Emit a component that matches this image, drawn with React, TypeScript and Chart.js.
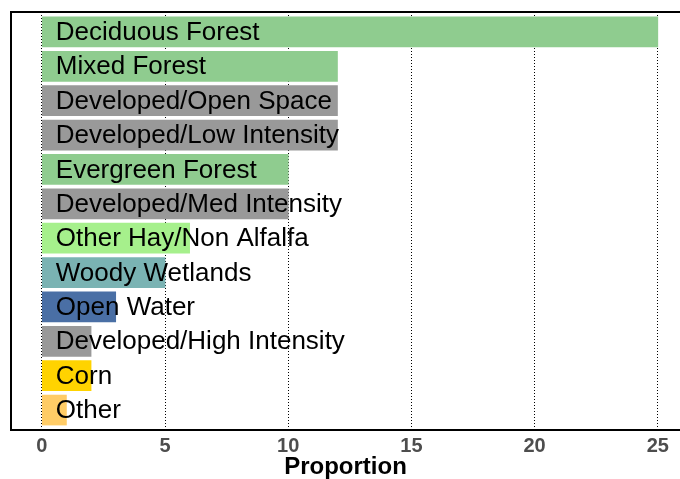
import React, { useEffect, useRef } from "react";
import { Chart, registerables } from "chart.js";

Chart.register(...registerables);

const categories = [
  "Deciduous Forest",
  "Mixed Forest",
  "Developed/Open Space",
  "Developed/Low Intensity",
  "Evergreen Forest",
  "Developed/Med Intensity",
  "Other Hay/Non Alfalfa",
  "Woody Wetlands",
  "Open Water",
  "Developed/High Intensity",
  "Corn",
  "Other",
];
const values = [25, 12, 12, 12, 10, 10, 6, 5, 3, 2, 2, 1];
const barColors = [
  "#8FCC8F",
  "#8FCC8F",
  "#999999",
  "#999999",
  "#8FCC8F",
  "#999999",
  "#A6F08C",
  "#7AB3B3",
  "#4A6FA5",
  "#999999",
  "#FFD300",
  "#FFCC66",
];
const xTicks = [0, 5, 10, 15, 20, 25];
const xTitle = "Proportion";

export default function App() {
  const ref = useRef<HTMLCanvasElement | null>(null);
  useEffect(() => {
    const canvas = ref.current!;
    const labelPlugin = {
      id: "barLabels",
      afterDatasetsDraw(chart: any) {
        const { ctx, scales } = chart;
        const xs = scales.x;
        const ys = scales.y;
        ctx.save();
        ctx.font = "26px 'Liberation Sans', Arial, sans-serif";
        ctx.fillStyle = "#000000";
        ctx.textBaseline = "middle";
        ctx.textAlign = "left";
        categories.forEach((c, i) => {
          ctx.fillText(c, xs.getPixelForValue(0) + 14, ys.getPixelForValue(i) + 1);
        });
        ctx.restore();
      },
      afterDraw(chart: any) {
        const { ctx, chartArea } = chart;
        ctx.save();
        ctx.strokeStyle = "#000000";
        ctx.lineWidth = 2;
        ctx.beginPath();
        ctx.moveTo(chart.width + 5, chartArea.top);
        ctx.lineTo(chartArea.left, chartArea.top);
        ctx.lineTo(chartArea.left, chartArea.bottom);
        ctx.lineTo(chart.width + 5, chartArea.bottom);
        ctx.stroke();
        ctx.restore();
      },
    };
    const chart = new Chart(canvas, {
      type: "bar",
      data: {
        datasets: [
          {
            data: values.map((v, i) => ({ x: v, y: i })),
            backgroundColor: barColors,
            borderWidth: 0,
            barThickness: 30,
          },
        ],
      },
      options: {
        indexAxis: "y",
        animation: false,
        responsive: false,
        maintainAspectRatio: false,
        layout: { padding: { left: 11, top: 12, right: 0, bottom: 0 } },
        plugins: { legend: { display: false }, tooltip: { enabled: false } },
        scales: {
          y: {
            type: "linear",
            display: false,
            reverse: true,
            offset: false,
            min: -0.58,
            max: 11.58,
          },
          x: {
            type: "linear",
            min: -1.25,
            max: 25.9,
            afterBuildTicks: (s: any) => {
              s.ticks = xTicks.map((v) => ({ value: v }));
            },
            afterFit: (s: any) => {
              s.height = 49;
            },
            grid: {
              color: "#000000",
              lineWidth: 1,
              drawTicks: false,
            },
            border: { display: false, dash: [1, 2] },
            ticks: {
              color: "#4D4D4D",
              padding: 4,
              font: { family: "'Liberation Sans', Arial, sans-serif", size: 20, weight: "bold" },
            },
            title: {
              display: true,
              text: xTitle,
              color: "#000000",
              padding: { top: 0, bottom: -3 },
              font: { family: "'Liberation Sans', Arial, sans-serif", size: 24, weight: "bold" },
            },
          },
        },
      },
      plugins: [labelPlugin],
    });
    return () => chart.destroy();
  }, []);
  return (
    <div style={{ position: "absolute", left: 0, top: 0, width: 680, height: 479, background: "#ffffff" }}>
      <canvas ref={ref} width={680} height={479} />
    </div>
  );
}
